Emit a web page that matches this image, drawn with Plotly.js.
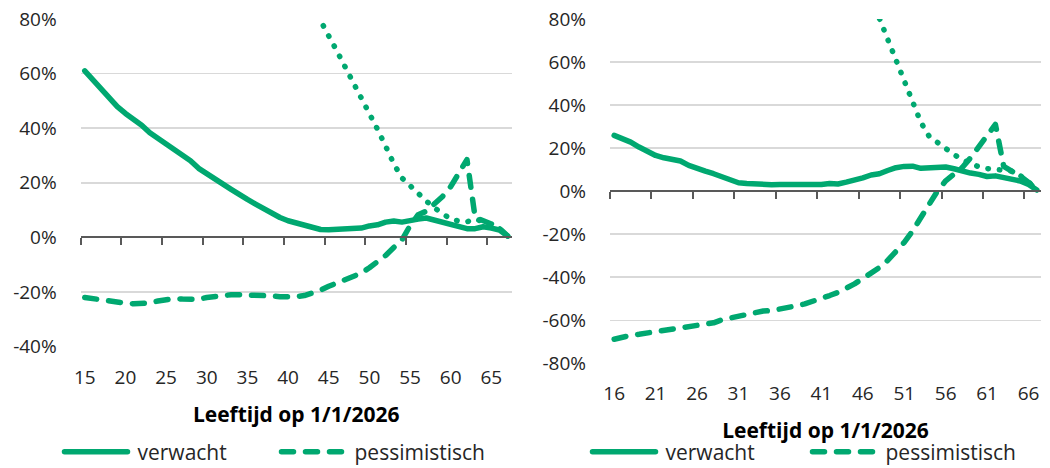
<!DOCTYPE html>
<html>
<head>
<meta charset="utf-8">
<script src="https://cdn.plot.ly/plotly-3.0.1.min.js"></script>
<style>
  html, body { margin: 0; padding: 0; background: #ffffff; }
  #chart { width: 1050px; height: 468px; }
  .js-line { stroke-linecap: round; stroke-linejoin: round; }
</style>
</head>
<body>
<div id="chart"></div>
<script>
// ---------- data (values in %) ----------
const agesLeft = [15,16,17,18,19,20,21,22,23,24,25,26,27,28,29,30,31,32,33,34,35,36,37,38,39,40,
  41,42,43,44,45,46,47,48,49,50,51,52,53,54,55,56,57,58,59,60,61,62,63,64,65,66,67];
const verwachtLeft = [61.0,57.6,54.5,51.5,47.9,45.4,43.5,41.1,38.3,36.3,34.4,32.6,30.5,28.1,25.3,23.2,
  21.6,19.5,17.6,15.5,13.9,12.2,10.5,8.8,7.3,6.1,5.4,4.6,3.7,2.9,2.8,2.9,2.9,3.2,3.4,4.2,4.6,5.6,6.0,
  5.6,6.3,6.7,7.1,6.3,5.6,4.5,3.7,3.2,3.2,3.9,3.4,2.7,0.5];
const pessimistischLeft = [-22.0,-22.5,-23.0,-23.6,-23.9,-24.1,-24.3,-24.4,-24.0,-23.3,-22.8,-22.4,-22.6,
  -22.9,-22.7,-22.0,-21.5,-21.1,-21.0,-21.0,-21.0,-20.9,-21.0,-21.4,-21.7,-21.9,-21.7,-21.3,-20.4,-19.3,
  -17.9,-16.6,-15.5,-14.5,-13.1,-11.1,-9.0,-6.6,-3.7,-1.0,4.3,8.3,9.6,12.5,15.0,18.6,23.5,28.5,7.3,6.2,
  4.9,3.3,0.5];
const agesLeftDotted = [43,44,45,46,47,48,49,50,51,52,53,54,55,56,57,58,59,60,61,62,63,64,65,66,67];
const optimistischLeft = [85.0,79.0,73.8,68.3,62.6,57.0,51.7,46.2,39.6,33.4,27.0,21.8,18.8,16.0,13.3,
  10.8,8.5,6.7,6.0,5.7,6.8,5.8,4.6,3.2,0.5];

const agesRight = [16,17,18,19,20,21,22,23,24,25,26,27,28,29,30,31,32,33,34,35,36,37,38,39,40,
  41,42,43,44,45,46,47,48,49,50,51,52,53,54,55,56,57,58,59,60,61,62,63,64,65,66,67];
const verwachtRight = [25.9,24.4,22.8,20.5,18.2,16.6,15.5,14.9,14.0,12.0,10.4,9.3,8.1,6.5,5.0,3.9,3.6,
  3.3,3.0,3.0,3.1,3.0,2.8,3.3,3.0,3.1,3.6,3.3,4.2,5.0,6.2,7.5,8.1,9.6,10.9,11.5,11.6,10.6,10.9,11.5,
  11.2,10.4,9.3,8.4,7.8,6.8,7.1,6.5,5.6,4.7,3.1,0.5];
const pessimistischRight = [-68.8,-67.8,-67.0,-66.5,-65.9,-65.4,-64.8,-64.0,-63.4,-62.9,-62.5,-62.0,
  -61.2,-59.8,-58.9,-57.9,-57.1,-56.1,-55.7,-55.5,-54.9,-54.0,-53.3,-52.4,-51.3,-49.9,-48.5,-47.1,
  -45.3,-43.1,-40.6,-38.1,-35.5,-32.2,-28.3,-23.8,-18.5,-12.3,-5.8,0.0,4.8,7.8,11.0,15.5,20.5,25.5,
  31.0,11.5,9.5,7.0,4.0,0.5];
const agesRightDotted = [47,48,49,50,51,52,53,54,55,56,57,58,59,60,61,62,63,64,65,66,67];
const optimistischRight = [90.0,80.5,71.0,61.0,52.0,42.5,32.0,25.5,22.4,19.6,17.0,14.7,12.7,11.3,10.5,
  9.9,9.7,9.3,7.2,4.3,0.5];

const xLabelsLeft = [15,20,25,30,35,40,45,50,55,60,65];
const xLabelsRight = [16,21,26,31,36,41,46,51,56,61,66];
const xBoundsLeft = [14.5,19.5,24.5,29.5,34.5,39.5,44.5,49.5,54.5,59.5,64.5];
const xBoundsRight = [15.5,20.5,25.5,30.5,35.5,40.5,45.5,50.5,55.5,60.5,65.5];
const yTicksLeft = [-40,-20,0,20,40,60,80];
const yTextLeft = ['-40%','-20%','0%','20%','40%','60%','80%'];
const yTicksRight = [-80,-60,-40,-20,0,20,40,60,80];
const yTextRight = ['-80%','-60%','-40%','-20%','0%','20%','40%','60%','80%'];
const xTitle = 'Leeftijd op 1/1/2026';
const names = ['verwacht', 'pessimistisch', 'optimistisch'];

// ---------- styling ----------
const GREEN = '#00a870';
const TXT = '#262626';
const AXIS = '#595959';
const GRID = '#d9d9d9';
const FONT = 'Open Sans, Noto Sans, sans-serif';
const LW = 5.5;
const DASH = '12px,12px';
const DOT = '0.5px,11px';

const traces = [
  {x: agesLeft, y: verwachtLeft, name: names[0], type: 'scatter', mode: 'lines',
   line: {color: GREEN, width: LW}, xaxis: 'x', yaxis: 'y', legend: 'legend'},
  {x: agesLeft, y: pessimistischLeft, name: names[1], type: 'scatter', mode: 'lines',
   line: {color: GREEN, width: LW, dash: DASH}, xaxis: 'x', yaxis: 'y', legend: 'legend'},
  {x: agesLeftDotted, y: optimistischLeft, name: names[2], type: 'scatter', mode: 'lines',
   line: {color: GREEN, width: LW, dash: DOT}, xaxis: 'x', yaxis: 'y', showlegend: false},
  {x: agesRight, y: verwachtRight, name: names[0], type: 'scatter', mode: 'lines',
   line: {color: GREEN, width: LW}, xaxis: 'x2', yaxis: 'y2', legend: 'legend2'},
  {x: agesRight, y: pessimistischRight, name: names[1], type: 'scatter', mode: 'lines',
   line: {color: GREEN, width: LW, dash: DASH}, xaxis: 'x2', yaxis: 'y2', legend: 'legend2'},
  {x: agesRightDotted, y: optimistischRight, name: names[2], type: 'scatter', mode: 'lines',
   line: {color: GREEN, width: LW, dash: DOT}, xaxis: 'x2', yaxis: 'y2', showlegend: false},
  // carriers for the zero-line axes (tick marks at category boundaries)
  {x: [], y: [], xaxis: 'x3', yaxis: 'y', showlegend: false, hoverinfo: 'skip'},
  {x: [], y: [], xaxis: 'x4', yaxis: 'y2', showlegend: false, hoverinfo: 'skip'}
];

const W = 1050, H = 468;
const L1 = 80.7, R1 = 511.7, L2 = 610, R2 = 1041;
const TOP = 19, B1 = 346.6, B2 = 363.3;
const domL = [L1 / W, R1 / W];
const domR = [L2 / W, R2 / W];
const ydomL = [1 - B1 / H, 1 - TOP / H];
const ydomR = [1 - B2 / H, 1 - TOP / H];
const rangeYL = [-40, 80], rangeYR = [-80, 80];
const zeroL = ydomL[0] + (ydomL[1] - ydomL[0]) * (0 - rangeYL[0]) / (rangeYL[1] - rangeYL[0]);
const zeroR = ydomR[0] + (ydomR[1] - ydomR[0]) * (0 - rangeYR[0]) / (rangeYR[1] - rangeYR[0]);

const tickFont = {family: FONT, size: 19, color: TXT};
const titleFont = {family: FONT, size: 21, color: '#000000', weight: 'bold'};

function labelAxis(dom, range, vals, anchor) {
  return {
    domain: dom, range: range, anchor: anchor, type: 'linear',
    tickmode: 'array', tickvals: vals, ticktext: vals.map(String),
    ticks: '', showline: false, showgrid: false, zeroline: false,
    tickfont: tickFont, ticklabelstandoff: 17,
    title: {text: '<b>' + xTitle + '</b>', font: titleFont, standoff: 18},
    fixedrange: true
  };
}
function zeroAxis(over, range, bounds, pos) {
  return {
    overlaying: over, anchor: 'free', position: pos, range: range, type: 'linear',
    tickmode: 'array', tickvals: bounds, showticklabels: false,
    ticks: 'outside', ticklen: 7, tickwidth: 2, tickcolor: AXIS,
    showline: true, linecolor: AXIS, linewidth: 2,
    showgrid: false, zeroline: false, fixedrange: true
  };
}
function valueAxis(dom, range, vals, text, anchor) {
  return {
    domain: dom, range: range, anchor: anchor,
    tickmode: 'array', tickvals: vals, ticktext: text,
    ticks: '', showline: false, showgrid: true, gridcolor: GRID, gridwidth: 1.5,
    zeroline: false, tickfont: tickFont, ticklabelstandoff: 23, fixedrange: true
  };
}

const legendBase = {
  orientation: 'h', yanchor: 'middle', xanchor: 'left', y: 1 - 452 / H,
  font: {family: FONT, size: 21, color: TXT}, bgcolor: 'rgba(0,0,0,0)',
  itemwidth: 70, traceorder: 'normal', itemclick: false, itemdoubleclick: false
};

const layout = {
  width: W, height: H,
  margin: {l: 0, r: 0, t: 0, b: 0, pad: 0, autoexpand: false},
  paper_bgcolor: '#ffffff', plot_bgcolor: '#ffffff',
  font: {family: FONT, color: TXT},
  xaxis: labelAxis(domL, [14.5, 67.5], xLabelsLeft, 'y'),
  xaxis2: labelAxis(domR, [15.5, 67.5], xLabelsRight, 'y2'),
  xaxis3: zeroAxis('x', [14.5, 67.5], xBoundsLeft, zeroL),
  xaxis4: zeroAxis('x2', [15.5, 67.5], xBoundsRight, zeroR),
  yaxis: valueAxis(ydomL, rangeYL, yTicksLeft, yTextLeft, 'x'),
  yaxis2: valueAxis(ydomR, rangeYR, yTicksRight, yTextRight, 'x2'),
  legend: Object.assign({}, legendBase, {x: 57.5 / W, entrywidth: 132}),
  legend2: Object.assign({}, legendBase, {x: 585.5 / W, entrywidth: 135}),
  showlegend: true,
  hovermode: false
};

Plotly.newPlot('chart', traces, layout, {displayModeBar: false, staticPlot: true}).then(function () {
  document.querySelectorAll('.legendlines path.js-line').forEach(function (p) {
    p.setAttribute('d', 'M7,0h63');
  });
});
</script>
</body>
</html>
